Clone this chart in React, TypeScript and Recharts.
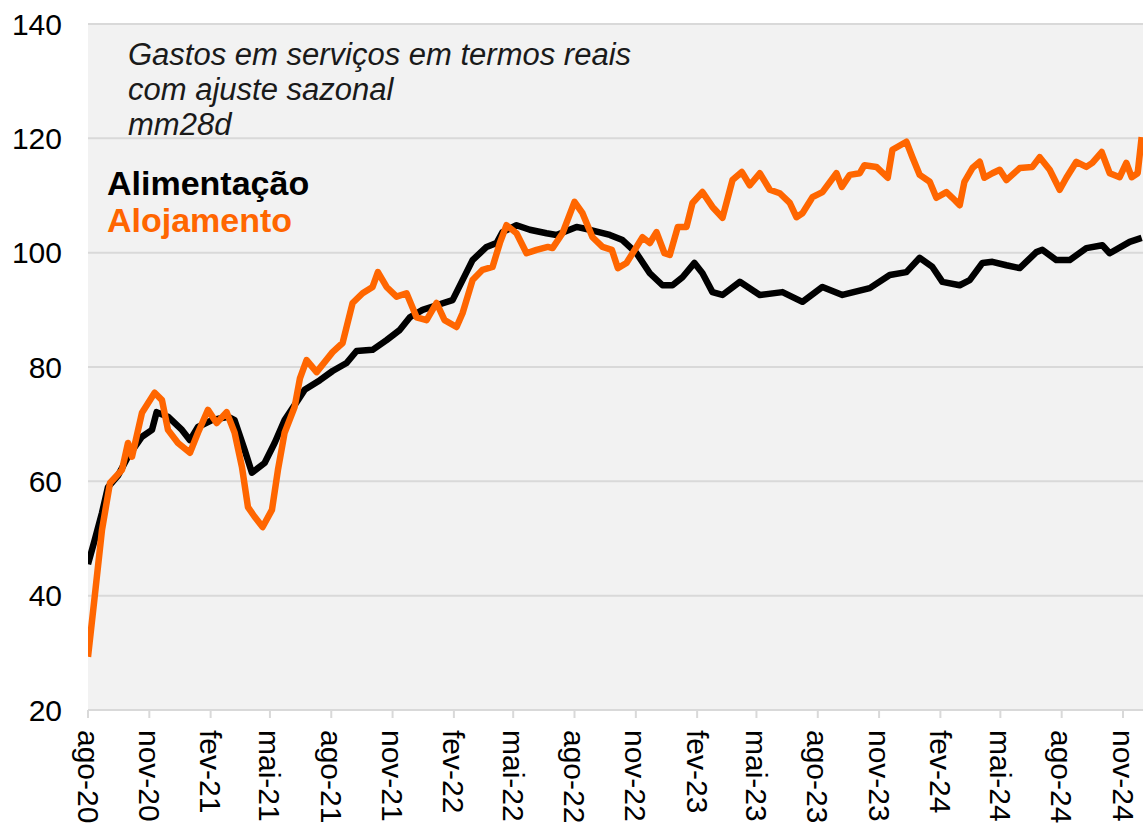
import React from "react";
import { LineChart, Line, XAxis, YAxis, CartesianGrid } from "recharts";

// Day offsets since 2020-08-01
const alimDays = [0, 10, 21, 30, 45, 60, 81, 96, 103, 120, 141, 153, 165, 186, 210, 220, 235, 246, 265, 280, 295, 315, 325, 348, 367, 388, 403, 427, 448, 468, 483, 502, 523, 547, 562, 577, 598, 613, 622, 643, 663, 688, 703, 733, 753, 783, 802, 823, 843, 862, 877, 892, 910, 922, 937, 952, 978, 1008, 1042, 1072, 1102, 1132, 1173, 1203, 1228, 1248, 1267, 1282, 1308, 1323, 1342, 1357, 1378, 1398, 1423, 1432, 1453, 1473, 1498, 1522, 1533, 1563, 1581];
const alimValues = [45.5, 49.7, 54.5, 59, 61, 64.3, 67.8, 69, 72.1, 71.3, 69, 67.2, 69.5, 70.7, 71.3, 70.7, 65.5, 61.5, 63.2, 66.7, 70.7, 74.2, 76, 77.7, 79.3, 80.7, 82.8, 83, 84.7, 86.5, 88.7, 90, 90.8, 91.7, 95.2, 98.7, 101, 101.7, 103.6, 104.8, 104, 103.4, 103.1, 104.5, 104, 103.1, 102.2, 99.9, 96.4, 94.3, 94.3, 95.7, 98.2, 96.4, 93.1, 92.6, 94.9, 92.6, 93.1, 91.4, 94, 92.6, 93.8, 96.1, 96.6, 99.1, 97.5, 94.9, 94.3, 95.2, 98.2, 98.4, 97.8, 97.3, 100.1, 100.5, 98.7, 98.7, 100.8, 101.3, 99.9, 101.9, 102.6];

const alojDays = [0, 10, 21, 33, 51, 60, 66, 81, 100, 111, 120, 135, 153, 165, 180, 193, 208, 220, 231, 240, 250, 262, 276, 285, 295, 310, 318, 328, 343, 367, 382, 397, 412, 427, 435, 448, 463, 478, 493, 508, 523, 535, 553, 562, 577, 592, 607, 618, 628, 643, 658, 673, 690, 697, 712, 730, 742, 757, 772, 786, 795, 808, 823, 832, 843, 853, 865, 873, 885, 898, 907, 922, 937, 952, 967, 981, 993, 1008, 1023, 1038, 1053, 1063, 1072, 1087, 1102, 1123, 1131, 1143, 1158, 1165, 1183, 1200, 1207, 1228, 1237, 1248, 1263, 1273, 1288, 1297, 1308, 1315, 1327, 1338, 1345, 1357, 1368, 1378, 1398, 1417, 1428, 1443, 1458, 1468, 1483, 1498, 1507, 1521, 1533, 1548, 1558, 1566, 1575, 1581];
const alojValues = [29.3, 39.8, 51.5, 59.7, 62, 66.7, 64.3, 72, 75.5, 74.2, 69, 66.7, 65, 68.5, 72.5, 70.2, 72.1, 68.5, 62.5, 55.5, 53.8, 52, 55, 62, 68.5, 73, 78, 81.2, 79.1, 82.6, 84.2, 91.2, 92.9, 94, 96.6, 94, 92.3, 92.9, 88.7, 88.2, 91.2, 88.2, 87, 89.4, 95.2, 97, 97.5, 101.7, 104.8, 103.4, 99.9, 100.5, 101, 100.8, 103.4, 108.9, 106.9, 102.7, 101, 100.5, 97.3, 98.2, 101, 102.7, 101.7, 103.6, 99.9, 99.6, 104.5, 104.5, 108.7, 110.6, 108, 106.1, 112.7, 114.1, 111.8, 113.9, 111, 110.4, 108.7, 106.2, 106.9, 109.7, 110.6, 113.9, 111.5, 113.6, 113.9, 115.3, 115, 113.1, 118, 119.4, 116.7, 113.6, 112.4, 109.6, 110.6, 109.6, 108.3, 112.4, 114.8, 115.9, 113.1, 113.9, 114.5, 112.7, 114.8, 115, 116.7, 114.5, 111, 113.1, 115.9, 115, 115.7, 117.6, 113.9, 113.2, 115.7, 113.2, 113.9, 120.2];

const tickDays = [0, 92, 184, 273, 365, 457, 549, 638, 730, 822, 914, 1003, 1095, 1187, 1279, 1369, 1461, 1553];
const tickLabels = ["ago-20", "nov-20", "fev-21", "mai-21", "ago-21", "nov-21", "fev-22", "mai-22", "ago-22", "nov-22", "fev-23", "mai-23", "ago-23", "nov-23", "fev-24", "mai-24", "ago-24", "nov-24"];
const yTicks = [20, 40, 60, 80, 100, 120, 140];

const titleLines = ["Gastos em serviços em termos reais", "com ajuste sazonal", "mm28d"];
const seriesNames = ["Alimentação", "Alojamento"];

const alimData = alimDays.map((d, i) => ({ d, v: alimValues[i] }));
const alojData = alojDays.map((d, i) => ({ d, v: alojValues[i] }));

const FONT = "'Liberation Sans', Arial, sans-serif";
const ORANGE = "#FF6600";

const XTick = (props: any) => {
  const { x, y, payload } = props;
  const idx = tickDays.indexOf(payload.value);
  return (
    <text
      transform={`translate(${x},${y + 10}) rotate(90)`}
      textAnchor="start"
      dominantBaseline="central"
      fontSize={30}
      fontFamily={FONT}
      fill="#000"
    >
      {idx >= 0 ? tickLabels[idx] : ""}
    </text>
  );
};

export default function App() {
  return (
    <div style={{ position: "absolute", left: 0, top: 0, width: 1143, height: 824, background: "#fff", overflow: "hidden" }}>
      <LineChart width={1143} height={824} margin={{ top: 24, right: 0, bottom: 0, left: 0 }}>
        <CartesianGrid vertical={false} fill="#f2f2f2" stroke="#d9d9d9" strokeWidth={2} />
        <XAxis
          type="number"
          dataKey="d"
          domain={[0, 1583]}
          ticks={tickDays}
          interval={0}
          allowDataOverflow
          tick={<XTick />}
          tickSize={8}
          tickMargin={2}
          axisLine={{ stroke: "#d9d9d9", strokeWidth: 2 }}
          tickLine={{ stroke: "#d9d9d9", strokeWidth: 2 }}
          height={114}
        />
        <YAxis
          type="number"
          domain={[20, 140]}
          ticks={yTicks}
          interval={0}
          width={88}
          axisLine={false}
          tickLine={false}
          tickSize={6}
          tickMargin={20}
          tick={{ fill: "#000", fontSize: 30, fontFamily: FONT }}
        />
        <Line data={alimData} dataKey="v" type="linear" stroke="#000" strokeWidth={6.5} dot={false} strokeLinejoin="round" isAnimationActive={false} />
        <Line data={alojData} dataKey="v" type="linear" stroke={ORANGE} strokeWidth={6.5} dot={false} strokeLinejoin="round" isAnimationActive={false} />
      </LineChart>
      <div style={{ position: "absolute", left: 128, top: 37, fontFamily: FONT, fontStyle: "italic", fontSize: 31, lineHeight: "35px", color: "#1a1a1a", whiteSpace: "nowrap" }}>
        {titleLines.map((t) => (
          <div key={t}>{t}</div>
        ))}
      </div>
      <div style={{ position: "absolute", left: 107, top: 165, fontFamily: FONT, fontWeight: "bold", fontSize: 34, lineHeight: "37px", whiteSpace: "nowrap" }}>
        <div style={{ color: "#000" }}>{seriesNames[0]}</div>
        <div style={{ color: ORANGE }}>{seriesNames[1]}</div>
      </div>
    </div>
  );
}
